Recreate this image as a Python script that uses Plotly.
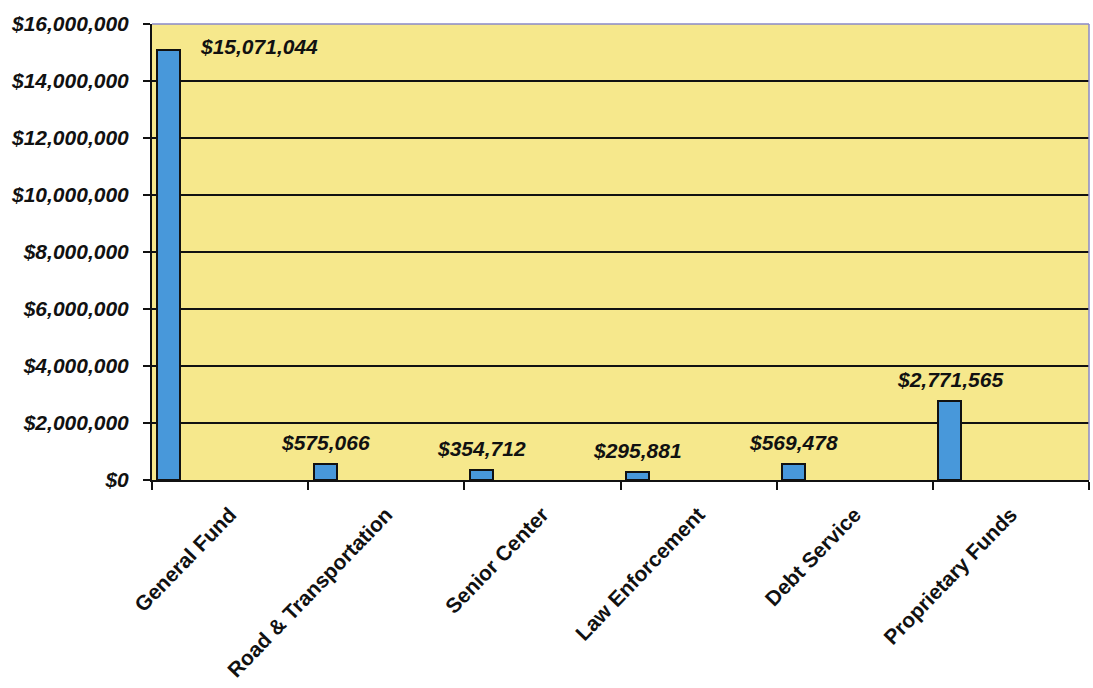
import plotly.graph_objects as go

# Fund categories and their amounts
funds = ["General Fund", "Road & Transportation", "Senior Center",
         "Law Enforcement", "Debt Service", "Proprietary Funds"]
amounts = [15071044, 575066, 354712, 295881, 569478, 2771565]
label_text = ["$15,071,044", "$575,066", "$354,712",
              "$295,881", "$569,478", "$2,771,565"]

y_ticks = [0, 2000000, 4000000, 6000000, 8000000,
           10000000, 12000000, 14000000, 16000000]

BAR_OFFSET = -0.465
BAR_WIDTH = 0.147

fig = go.Figure(
    go.Bar(
        x=funds,
        y=amounts,
        width=BAR_WIDTH,
        offset=BAR_OFFSET,
        marker=dict(color="#4898DA", line=dict(color="#111111", width=2)),
        hoverinfo="x+y",
    )
)

# value labels: centered over each bar, beside the bar when it nearly fills the plot
for i, (val, txt) in enumerate(zip(amounts, label_text)):
    if val > 14000000:
        fig.add_annotation(
            x=i + BAR_OFFSET + BAR_WIDTH + 0.11, y=val, text=txt,
            xanchor="left", yanchor="middle", showarrow=False, yshift=4,
            font=dict(family="Liberation Sans", size=21, color="#111111"),
        )
    else:
        fig.add_annotation(
            x=i + BAR_OFFSET + BAR_WIDTH / 2, y=val, text=txt,
            xanchor="center", yanchor="bottom", showarrow=False, yshift=8,
            font=dict(family="Liberation Sans", size=21, color="#111111"),
        )

# plot-area frame on the top and right sides
fig.add_shape(type="line", xref="paper", yref="paper", x0=0, x1=1, y0=1, y1=1,
              line=dict(color="#8A8AC8", width=1.5))
fig.add_shape(type="line", xref="paper", yref="paper", x0=1, x1=1, y0=0, y1=1,
              line=dict(color="#8A8AC8", width=1.5))

fig.update_layout(
    width=1093,
    height=688,
    margin=dict(l=152, r=4, t=24, b=208),
    paper_bgcolor="#FFFFFF",
    plot_bgcolor="#F6E88C",
    showlegend=False,
    font=dict(family="Liberation Sans", color="#111111"),
    bargap=0,
)

fig.update_xaxes(
    type="category",
    tickson="boundaries",
    ticks="outside",
    ticklen=8,
    tickwidth=2,
    tickcolor="#111111",
    tickangle=-46,
    ticklabelstandoff=12,
    showline=True,
    linecolor="#111111",
    linewidth=2,
    showgrid=False,
    range=[-0.5, 5.5],
    tickfont=dict(family="Liberation Sans", size=21, color="#111111",
                  weight="bold"),
)

fig.update_yaxes(
    range=[0, 16000000],
    tickvals=y_ticks,
    tickformat="$,.0f",
    ticks="outside",
    ticklen=7,
    tickwidth=2,
    tickcolor="#111111",
    ticklabelstandoff=10,
    showline=True,
    linecolor="#111111",
    linewidth=2,
    showgrid=True,
    gridcolor="#111111",
    gridwidth=2,
    zeroline=False,
    tickfont=dict(family="Liberation Sans", size=21, color="#111111",
                  weight="bold", style="italic"),
)

fig.update_annotations(font_weight="bold", font_style="italic")

fig.write_html("out.html")
